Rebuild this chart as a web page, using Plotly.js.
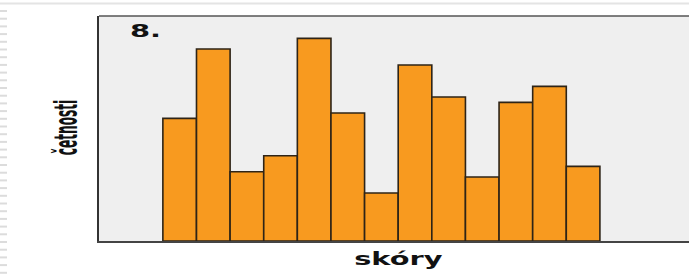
<!DOCTYPE html>
<html>
<head>
<meta charset="utf-8">
<script src="https://cdn.plot.ly/plotly-3.0.1.min.js"></script>
<style>
  html, body { margin: 0; padding: 0; background: #ffffff; }
  #chart { width: 689px; height: 279px; }
</style>
</head>
<body>
<div id="chart"></div>
<script>
// ---- data ----
const scores = [1, 2, 3, 4, 5, 6, 7, 8, 9, 10, 11, 12, 13];
const counts = [23, 36, 13, 16, 38, 24, 9, 33, 27, 12, 26, 29, 14];
const chartLabel = '8.';
const xTitle = 'skóry';
const yTitle = 'četnosti';

// ---- decorative page edge (ruler ticks at left, light rule at top) ----
const shapes = [];
for (let y = 11; y <= 273; y += 7.7) {
  shapes.push({type: 'line', xref: 'paper', yref: 'paper', layer: 'above',
    x0: -99 / 590, x1: -92 / 590, y0: (241 - y) / 225, y1: (241 - y) / 225,
    line: {color: '#dcdcdc', width: 2}});
}
shapes.push({type: 'line', xref: 'paper', yref: 'paper',
  x0: -99 / 590, x1: 1, y0: (241 - 3.5) / 225, y1: (241 - 3.5) / 225,
  line: {color: '#e4e4e4', width: 2}});

const trace = {
  type: 'bar',
  x: scores,
  y: counts,
  width: 1,
  marker: {color: '#F89A1F', line: {color: '#2e2417', width: 1.6}},
  hoverinfo: 'none'
};

const layout = {
  width: 689,
  height: 279,
  margin: {l: 99, r: 0, t: 16, b: 38, pad: 0},
  paper_bgcolor: '#ffffff',
  plot_bgcolor: '#efefef',
  showlegend: false,
  bargap: 0,
  title: {
    text: chartLabel,
    font: {family: 'DejaVu Sans', size: 17, color: '#111111', weight: 'bold'},
    xref: 'paper', x: 0.054, xanchor: 'left',
    yref: 'container', y: 0.887, yanchor: 'middle'
  },
  xaxis: {
    range: [-1.4, 16.15],
    showticklabels: false, ticks: '', showgrid: false, zeroline: false,
    showline: true, linecolor: '#444444', linewidth: 2, mirror: false,
    title: {text: xTitle, standoff: 6,
      font: {family: 'DejaVu Sans', size: 18, color: '#111111', weight: 'bold'}},
    automargin: false
  },
  yaxis: {
    range: [0, 42.2],
    showticklabels: false, ticks: '', showgrid: false, zeroline: false,
    showline: true, linecolor: '#333333', linewidth: 2,
    title: {text: yTitle, standoff: 10,
      font: {family: 'DejaVu Sans Condensed, sans-serif', size: 15, color: '#111111', weight: 'bold'}},
    automargin: false
  },
  shapes: shapes.concat([
    {type: 'line', xref: 'paper', yref: 'paper', x0: 0, x1: 1, y0: 1, y1: 1,
      line: {color: '#555555', width: 1.5}}
  ])
};

function fitText(sel, sx, sy, cx, cy) {
  const el = document.querySelector(sel);
  if (!el) return;
  const r = el.getBoundingClientRect();
  const parent = el.parentNode;
  const g = document.createElementNS('http://www.w3.org/2000/svg', 'g');
  parent.insertBefore(g, el);
  g.appendChild(el);
  const ctm = parent.getScreenCTM();
  const ox = ctm ? ctm.e : 0, oy = ctm ? ctm.f : 0;
  const rcx = r.left + r.width / 2 - ox;
  const rcy = r.top + r.height / 2 - oy;
  const tx = (cx - ox) - rcx * sx;
  const ty = (cy - oy) - rcy * sy;
  g.setAttribute('transform', 'translate(' + tx + ',' + ty + ') scale(' + sx + ',' + sy + ')');
}

Plotly.newPlot('chart', [trace], layout, {displayModeBar: false, staticPlot: true}).then(function () {
  fitText('.g-gtitle text', 1.7, 1, 145.5, 31);
  fitText('.g-xtitle text', 1.6, 1, 398.5, 258.7);
  fitText('.g-ytitle text', 2.1, 0.9, 66.5, 127.5);
});
</script>
</body>
</html>
